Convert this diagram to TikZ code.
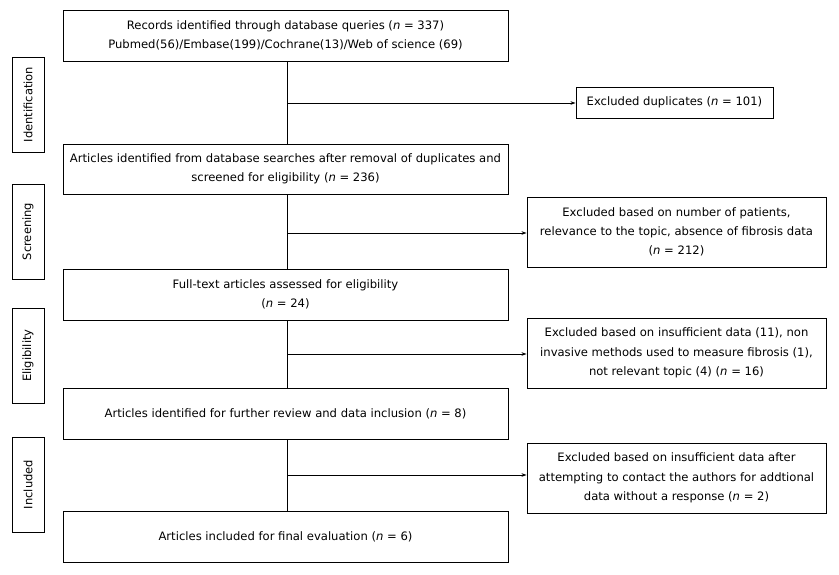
\documentclass[tikz,border=0pt]{standalone}
\usepackage{fontspec}
\setmainfont{DejaVu Sans}
\usetikzlibrary{arrows.meta}
\begin{document}
\begin{tikzpicture}[x=1pt,y=-1pt,
  box/.style={draw,line width=0.9pt,inner sep=0pt,align=center,font=\fontsize{11.6}{19.3}\selectfont},
  side/.style={draw,line width=0.9pt,inner sep=0pt},
  sidetext/.style={rotate=90,font=\fontsize{11.5}{13}\selectfont},
  conn/.style={line width=0.8pt},
  arr/.style={conn,-{Stealth[length=5pt,width=3.5pt]}}]
\useasboundingbox (0,0) rectangle (839,575);
\newcommand{\nn}{\textit{n}}
% main boxes
\node[box,minimum width=445,minimum height=51] (b1) at (285.5,35.5) {Records identified through database queries (\nn{} = 337)\\Pubmed(56)/Embase(199)/Cochrane(13)/Web of science (69)};
\node[box,minimum width=445,minimum height=50] (b2) at (285.5,169) {Articles identified from database searches after removal of duplicates and\\screened for eligibility (\nn{} = 236)};
\node[box,minimum width=445,minimum height=51] (b3) at (285.5,294.5) {Full-text articles assessed for eligibility\\(\nn{} = 24)};
\node[box,minimum width=445,minimum height=51] (b4) at (285.5,413.5) {Articles identified for further review and data inclusion (\nn{} = 8)};
\node[box,minimum width=445,minimum height=51] (b5) at (285.5,536.5) {Articles included for final evaluation (\nn{} = 6)};
% exclusion boxes
\node[box,minimum width=197,minimum height=31] (e1) at (674.5,102.5) {Excluded duplicates (\nn{} = 101)};
\node[box,minimum width=299,minimum height=70] (e2) at (676.5,232) {Excluded based on number of patients,\\relevance to the topic, absence of fibrosis data\\(\nn{} = 212)};
\node[box,minimum width=299,minimum height=70] (e3) at (676.5,353) {Excluded based on insufficient data (11), non\\invasive methods used to measure fibrosis (1),\\not relevant topic (4) (\nn{} = 16)};
\node[box,minimum width=299,minimum height=70] (e4) at (676.5,478) {Excluded based on insufficient data after\\attempting to contact the authors for addtional\\data without a response (\nn{} = 2)};
% side labels
\node[side,minimum width=32,minimum height=95,label={[sidetext]center:Identification}] (s1) at (28,104.5) {};
\node[side,minimum width=32,minimum height=95,label={[sidetext]center:Screening}] (s2) at (28,231.5) {};
\node[side,minimum width=32,minimum height=95,label={[sidetext]center:Eligibility}] (s3) at (28,355.5) {};
\node[side,minimum width=32,minimum height=95,label={[sidetext]center:Included}] (s4) at (28,484.5) {};
% connectors
\coordinate (j1) at (287,103);
\coordinate (j2) at (287,233);
\coordinate (j3) at (287,354);
\coordinate (j4) at (287,475);
\draw[conn] (b1.south -| j1) -- (b2.north -| j1);
\draw[conn] (b2.south -| j1) -- (b3.north -| j1);
\draw[conn] (b3.south -| j1) -- (b4.north -| j1);
\draw[conn] (b4.south -| j1) -- (b5.north -| j1);
\draw[arr] (j1) -- (e1.west |- j1);
\draw[arr] (j2) -- (e2.west |- j2);
\draw[arr] (j3) -- (e3.west |- j3);
\draw[arr] (j4) -- (e4.west |- j4);
\end{tikzpicture}
\end{document}
